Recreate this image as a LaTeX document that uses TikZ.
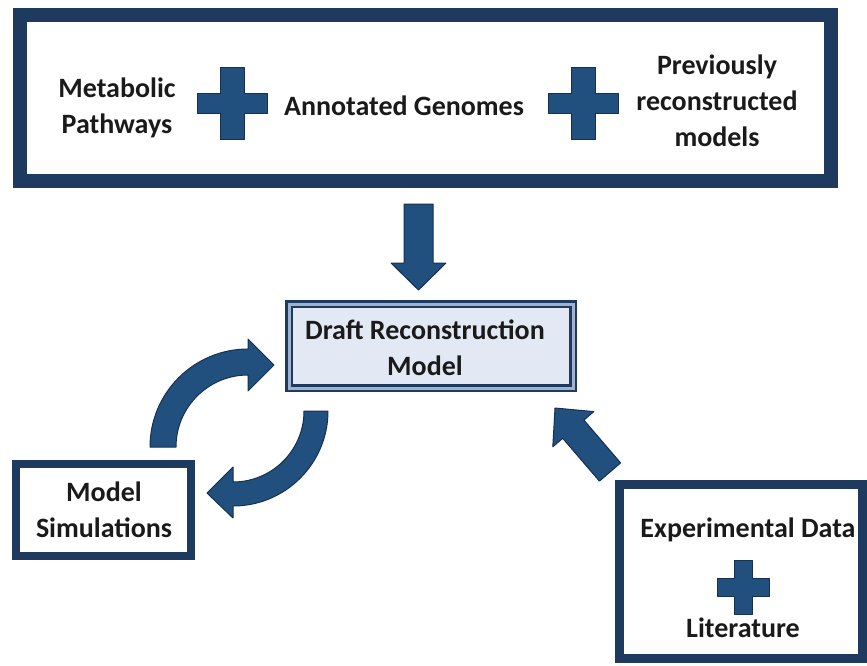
\documentclass[tikz,border=0pt]{standalone}
\usepackage{fontspec}
\setmainfont{Carlito}
\usetikzlibrary{calc}
\definecolor{navy}{HTML}{1F3A5F}
\definecolor{arrowblue}{HTML}{21507F}
\definecolor{arrowline}{HTML}{17304F}
\definecolor{draftfill}{HTML}{E2E9F4}
\definecolor{draftgap}{HTML}{9FB3D1}
\definecolor{txt}{HTML}{1A1A1A}
\tikzset{
  box/.style={draw=navy, fill=white, rectangle, inner sep=0pt, outer sep=0pt},
  lbl/.style={font=\bfseries\fontsize{28}{36}\selectfont, align=center, text=txt, inner sep=0pt},
  blockarrow/.style={fill=arrowblue, draw=arrowline, line width=1pt, line join=round},
}
\newcommand\myplus[6]{%
  \filldraw[blockarrow] (#1-#5,#2-#4) -- (#1+#5,#2-#4) -- (#1+#5,#2-#6) -- (#1+#3,#2-#6)
    -- (#1+#3,#2+#6) -- (#1+#5,#2+#6) -- (#1+#5,#2+#4) -- (#1-#5,#2+#4) -- (#1-#5,#2+#6)
    -- (#1-#3,#2+#6) -- (#1-#3,#2-#6) -- (#1-#5,#2-#6) -- cycle;}
\begin{document}
\begin{tikzpicture}[x=1pt,y=-1pt]
\useasboundingbox[fill=white] (0,0) rectangle (867,666);
% boxes
\node[box, line width=14pt, minimum width=811pt, minimum height=166pt] (top) at (425.5,98) {};
\node[box, draw=navy, double=draftgap, double distance=3pt, line width=2.5pt, fill=draftfill,
      minimum width=284pt, minimum height=84pt] (draft) at (431,346) {};
\node[box, line width=8pt, minimum width=175pt, minimum height=92pt] (sim) at (103.5,510) {};
\node[box, line width=9pt, minimum width=243pt, minimum height=174pt] (exp) at (741,571.5) {};
% texts
\node[lbl] (metab) at (117,108) {Metabolic\\Pathways};
\node[lbl] (annot) at (404,106) {Annotated Genomes};
\node[lbl] (prev) at (717,101) {Previously\\reconstructed\\models};
\node[lbl] (drafttxt) at (425,348) {Draft Reconstruction\\Model};
\node[lbl] (simtxt) at (104,510) {Model\\Simulations};
\node[lbl] (exptxt) at (748,530) {Experimental Data};
\node[lbl] (lit) at (743,628) {Literature};
% plus signs
\myplus{232}{104}{35}{36}{12}{10}
\myplus{583}{104}{35}{36}{12}{10}
\myplus{743}{587}{26}{27}{9}{9}
% down arrow
\filldraw[blockarrow] (404,204) -- (433,204) -- (433,263) -- (446,263) -- (418.5,290)
  -- (391,263) -- (404,263) -- cycle;
% curved arrow up to draft
\filldraw[blockarrow] (150,447) arc[start angle=180, end angle=270, radius=98]
  -- (248,339) -- (274,365) -- (248,391) -- (248,375)
  arc[start angle=270, end angle=180, radius=72] -- cycle;
% curved arrow down to simulations
\filldraw[blockarrow] (328,411) arc[start angle=0, end angle=90, radius=95]
  -- (233,518) -- (207,493) -- (233,467) -- (233,482)
  arc[start angle=90, end angle=0, radius=71] -- cycle;
% diagonal arrow
\filldraw[blockarrow] (620.6,462.9) -- (583.9,420.1) -- (593.8,411.6) -- (555,408)
  -- (552.8,446.8) -- (562.7,438.3) -- (599.4,481.1) -- cycle;
\end{tikzpicture}
\end{document}
